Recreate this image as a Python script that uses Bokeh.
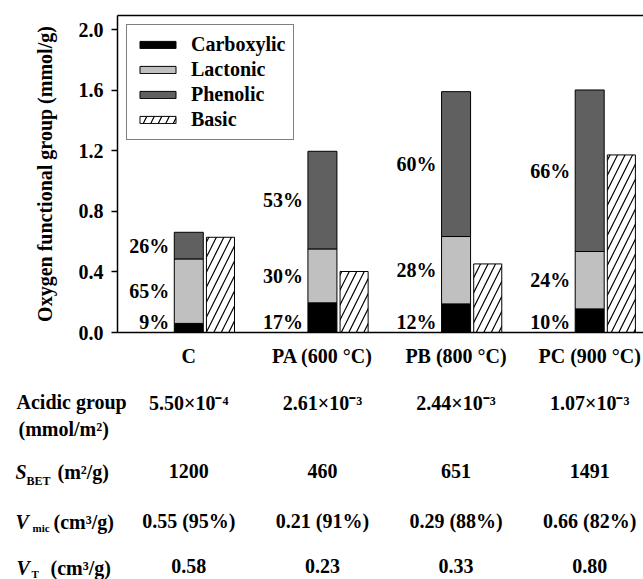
from bokeh.plotting import figure
from bokeh.models import Range1d, FixedTicker, Legend, LegendItem, ColumnDataSource, PrintfTickFormatter, LinearAxis
from bokeh.layouts import column
from bokeh.embed import file_html
from bokeh.resources import INLINE
from bokeh.core.properties import value

# ---------------- data ----------------
categories = ["C", "PA (600 °C)", "PB (800 °C)", "PC (900 °C)"]
carboxylic = [0.06, 0.196, 0.189, 0.156]
lactonic = [0.426, 0.356, 0.445, 0.379]
phenolic = [0.176, 0.645, 0.957, 1.067]
basic = [0.629, 0.403, 0.453, 1.173]
carb_pct = ["9%", "17%", "12%", "10%"]
lact_pct = ["65%", "30%", "28%", "24%"]
phen_pct = ["26%", "53%", "60%", "66%"]
y_ticks = [0.0, 0.4, 0.8, 1.2, 1.6, 2.0]

acidic_vals = ["5.50×10⁻⁴", "2.61×10⁻³", "2.44×10⁻³", "1.07×10⁻³"]
sbet_vals = ["1200", "460", "651", "1491"]
vmic_vals = ["0.55 (95%)", "0.21 (91%)", "0.29 (88%)", "0.66 (82%)"]
vt_vals = ["0.58", "0.23", "0.33", "0.80"]

# ---------------- styling / layout ----------------
FONT = value("Liberation Serif")
FS = "20px"
BW = 0.217       # stacked bar width
BW2 = 0.21       # basic bar width
DX = 0.237       # offset of basic bar
X_START, X_END = -0.5335, 3.4026
LEFT, RIGHT, TOP = 117, 0, 15
W = 643
H1 = 372
H2 = 579 - H1

xs = list(range(len(categories)))
c_top = [a for a in carboxylic]
l_top = [a + b for a, b in zip(carboxylic, lactonic)]

src = ColumnDataSource(dict(
    x=xs, carb=carboxylic, lact=lactonic, phen=phenolic,
    xb=[x + DX for x in xs], basic=basic,
    xl=[x - BW / 2 for x in xs],
    y_carb=[0.0] * len(xs),
    y_lact=[(a + b) / 2 for a, b in zip(c_top, l_top)],
    y_phen=[(a + a + p) / 2 for a, p in zip(l_top, phenolic)],
    carb_pct=carb_pct, lact_pct=lact_pct, phen_pct=phen_pct,
))

p = figure(width=W, height=H1, x_range=Range1d(X_START, X_END), y_range=Range1d(0, 2.094),
           output_backend="svg", toolbar_location=None,
           min_border_left=LEFT, min_border_right=RIGHT, min_border_top=TOP, min_border_bottom=H1 - 332)
p.frame_align = False
p.xgrid.visible = False
p.ygrid.visible = False
p.outline_line_color = None
p.background_fill_color = "white"
p.border_fill_color = "white"

xa = p.below[0]
ya = p.left[0]

top_axis = LinearAxis(ticker=FixedTicker(ticks=[]), axis_line_width=1.5, axis_line_color="black",
                      major_tick_line_color=None, minor_tick_line_color=None,
                      major_label_text_font_size="0px", major_label_standoff=0,
                      major_tick_in=0, major_tick_out=0)
p.add_layout(top_axis, "above")

stack = p.vbar_stack(["carb", "lact", "phen"], x="x", width=BW, source=src,
                     fill_color=["black", "#c0c0c0", "#606060"], line_color="black", line_width=1)
rb = p.vbar(x="xb", top="basic", width=BW2, source=src, fill_color="white", line_color="black",
            line_width=1, hatch_pattern="/", hatch_color="black", hatch_scale=15, hatch_weight=1.2)

common = dict(text_font=FONT, text_font_style="bold", text_font_size=FS, text_align="right",
              x_offset=-5, source=src, text_color="black")
p.text(x="xl", y="y_carb", text="carb_pct", text_baseline="bottom", **common)
p.text(x="xl", y="y_lact", text="lact_pct", text_baseline="middle", **common)
p.text(x="xl", y="y_phen", text="phen_pct", text_baseline="middle", **common)

legend = Legend(items=[
    LegendItem(label="Carboxylic", renderers=[stack[0]]),
    LegendItem(label="Lactonic", renderers=[stack[1]]),
    LegendItem(label="Phenolic", renderers=[stack[2]]),
    LegendItem(label="Basic", renderers=[rb]),
], location="top_left")
legend.margin = 9
legend.padding = 8
legend.spacing = 2
legend.glyph_width = 45
legend.glyph_height = 9
legend.label_height = 21
legend.label_standoff = 11
legend.label_text_font = "Liberation Serif"
legend.label_text_font_style = "bold"
legend.label_text_font_size = FS
legend.label_text_color = "black"
legend.border_line_color = "black"
legend.border_line_width = 1.5
legend.background_fill_alpha = 1.0
p.add_layout(legend)

ya.ticker = FixedTicker(ticks=y_ticks)
ya.formatter = PrintfTickFormatter(format="%.1f")
ya.axis_label = "Oxygen functional group (mmol/g)"
ya.axis_label_text_font = "Liberation Serif"
ya.axis_label_text_font_style = "bold"
ya.axis_label_text_font_size = FS
ya.axis_label_text_color = "black"
ya.axis_label_standoff = 20
ya.major_label_text_font = "Liberation Serif"
ya.major_label_text_font_style = "bold"
ya.major_label_text_font_size = FS
ya.major_label_text_color = "black"
ya.major_tick_in = 0
ya.major_tick_out = 6
ya.minor_tick_line_color = None
ya.axis_line_color = "black"
ya.major_tick_line_color = "black"
ya.axis_line_width = 1.5
ya.major_tick_line_width = 1.5
ya.major_label_standoff = 8

xa.ticker = FixedTicker(ticks=xs)
xa.major_label_overrides = {i: c for i, c in zip(xs, categories)}
xa.major_label_text_font = "Liberation Serif"
xa.major_label_text_font_style = "bold"
xa.major_label_text_font_size = FS
xa.major_label_text_color = "black"
xa.major_tick_line_color = None
xa.major_tick_in = 0
xa.major_tick_out = 0
xa.minor_tick_line_color = None
xa.axis_line_color = "black"
xa.axis_line_width = 1.5
xa.major_label_standoff = 12

# ---------------- table below ----------------
ppu = (W - LEFT - RIGHT) / (X_END - X_START)
t_start = X_START - LEFT / ppu
t_end = X_END + RIGHT / ppu

t = figure(width=W, height=H2, x_range=Range1d(t_start, t_end), y_range=Range1d(H2, 0),
           output_backend="svg", toolbar_location=None,
           min_border_left=0, min_border_right=0, min_border_top=0, min_border_bottom=0,
           x_axis_location=None, y_axis_location=None)
t.frame_align = False
t.xgrid.visible = False
t.ygrid.visible = False
t.outline_line_color = None
t.background_fill_color = "white"
t.border_fill_color = "white"

row_y = [30, 98, 148, 193.5]
tsrc = ColumnDataSource(dict(
    x=xs * 4,
    y=[row_y[0]] * 4 + [row_y[1]] * 4 + [row_y[2]] * 4 + [row_y[3]] * 4,
    text=acidic_vals + sbet_vals + vmic_vals + vt_vals,
))
t.text(x="x", y="y", text="text", source=tsrc, text_align="center", text_baseline="middle",
       text_font=FONT, text_font_style="bold", text_font_size=FS, text_color="black")


def hdr(txt, y, dx, dy=0, size=FS, style="bold"):
    t.text(x=[t_start], y=[y], text=[txt], x_offset=dx, y_offset=dy, text_align="left",
           text_baseline="middle", text_font=FONT, text_font_style=style, text_font_size=size,
           text_color="black")


hdr("Acidic group", 29.7, 16)
hdr("(mmol/m²)", 56, 18)
hdr("S", 99.5, 15, style="bold italic")
hdr("BET", 99.5, 26, dy=9, size="12px")
hdr("(m²/g)", 99.5, 57)
hdr("V", 149.5, 15, style="bold italic")
hdr("mic", 149.5, 32, dy=6, size="11px")
hdr("(cm³/g)", 149.5, 53)
hdr("V", 195, 16, style="bold italic")
hdr("T", 195, 31, dy=6, size="11px")
hdr("(cm³/g)", 195, 50)

layout = column(p, t)
open("out.html", "w").write(file_html(layout, INLINE))
